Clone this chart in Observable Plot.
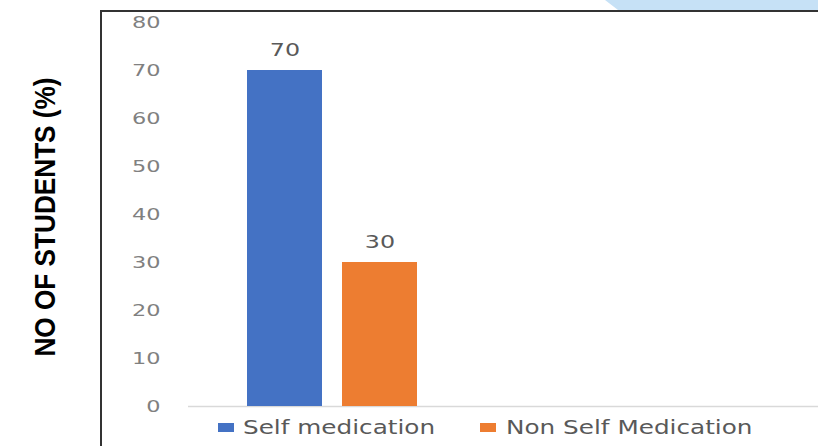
<!DOCTYPE html>
<html>
<head>
<meta charset="utf-8">
<script src="https://cdn.jsdelivr.net/npm/d3@7"></script>
<script src="https://cdn.jsdelivr.net/npm/@observablehq/plot@0.6"></script>
<style>
  body { margin: 0; background: #fff; }
  #wrap { position: relative; width: 818px; height: 446px; overflow: hidden; background: #fff; }
  #deco { position: absolute; left: 605px; top: 0; width: 213px; height: 10px; background: #c6e1f6;
          clip-path: polygon(0 0, 100% 0, 100% 100%, 13px 100%); }
  #frame { position: absolute; left: 100px; top: 10px; width: 900px; height: 600px;
           border-left: 2px solid #333; border-top: 2px solid #333; }
  #chart { position: absolute; left: 0; top: 0; }
  #ylabel { position: absolute; left: 45px; top: 217px; white-space: nowrap; color: #000;
            font: bold 24px "Liberation Sans", Arial, sans-serif;
            transform: translate(-50%, -50%) rotate(-90deg) scale(1.09, 1.2); }
  .sw { position: absolute; width: 16px; height: 9px; top: 423px; }
  .lt { position: absolute; top: 416px; line-height: 22px; font: 19px "DejaVu Sans", sans-serif; color: #595959;
        white-space: nowrap; transform: scaleX(1.3); transform-origin: left center; }
</style>
</head>
<body>
<div id="wrap">
  <div id="deco"></div>
  <div id="frame"></div>
  <div id="chart"></div>
  <div id="ylabel">NO OF STUDENTS (%)</div>
</div>
<script>
const categories = ["Self medication", "Non Self Medication"];
const values = [70, 30];
const yTicks = [0, 10, 20, 30, 40, 50, 60, 70, 80];
const palette = ["#4472c4", "#ed7d31"];

const data = categories.map((c, i) => ({category: c, value: values[i]}));

const plot = Plot.plot({
  width: 818,
  height: 412,
  marginTop: 22,
  marginBottom: 6,
  marginLeft: 188,
  marginRight: 0,
  style: {fontFamily: "DejaVu Sans, sans-serif", background: "transparent", overflow: "visible"},
  x: {type: "band", domain: categories, range: [247, 418], paddingInner: 0.21, paddingOuter: 0, axis: null},
  y: {domain: [0, 80], ticks: yTicks, label: null},
  color: {domain: categories, range: palette},
  marks: [
    Plot.axisY({ticks: yTicks, tickSize: 0, tickPadding: 28, fontSize: 16, fill: "#808080", label: null}),
    Plot.ruleY([0], {stroke: "#d9d9d9", strokeWidth: 1.5}),
    Plot.barY(data, {x: "category", y: "value", fill: "category"}),
    Plot.text(data, {x: "category", y: "value", text: d => String(d.value), dy: -20, fontSize: 17, fill: "#595959"})
  ]
});
plot.querySelectorAll("text").forEach(t => {
  const tr = t.getAttribute("transform") || "";
  t.setAttribute("transform", tr + " scale(1.4,1)");
});
document.getElementById("chart").appendChild(plot);

const wrap = document.getElementById("wrap");
const legendPos = [{sw: 218, tx: 243}, {sw: 480, tx: 506}];
categories.forEach((c, i) => {
  const s = document.createElement("div");
  s.className = "sw";
  s.style.left = legendPos[i].sw + "px";
  s.style.background = palette[i];
  wrap.appendChild(s);
  const t = document.createElement("div");
  t.className = "lt";
  t.style.left = legendPos[i].tx + "px";
  t.textContent = c;
  wrap.appendChild(t);
});
</script>
</body>
</html>
